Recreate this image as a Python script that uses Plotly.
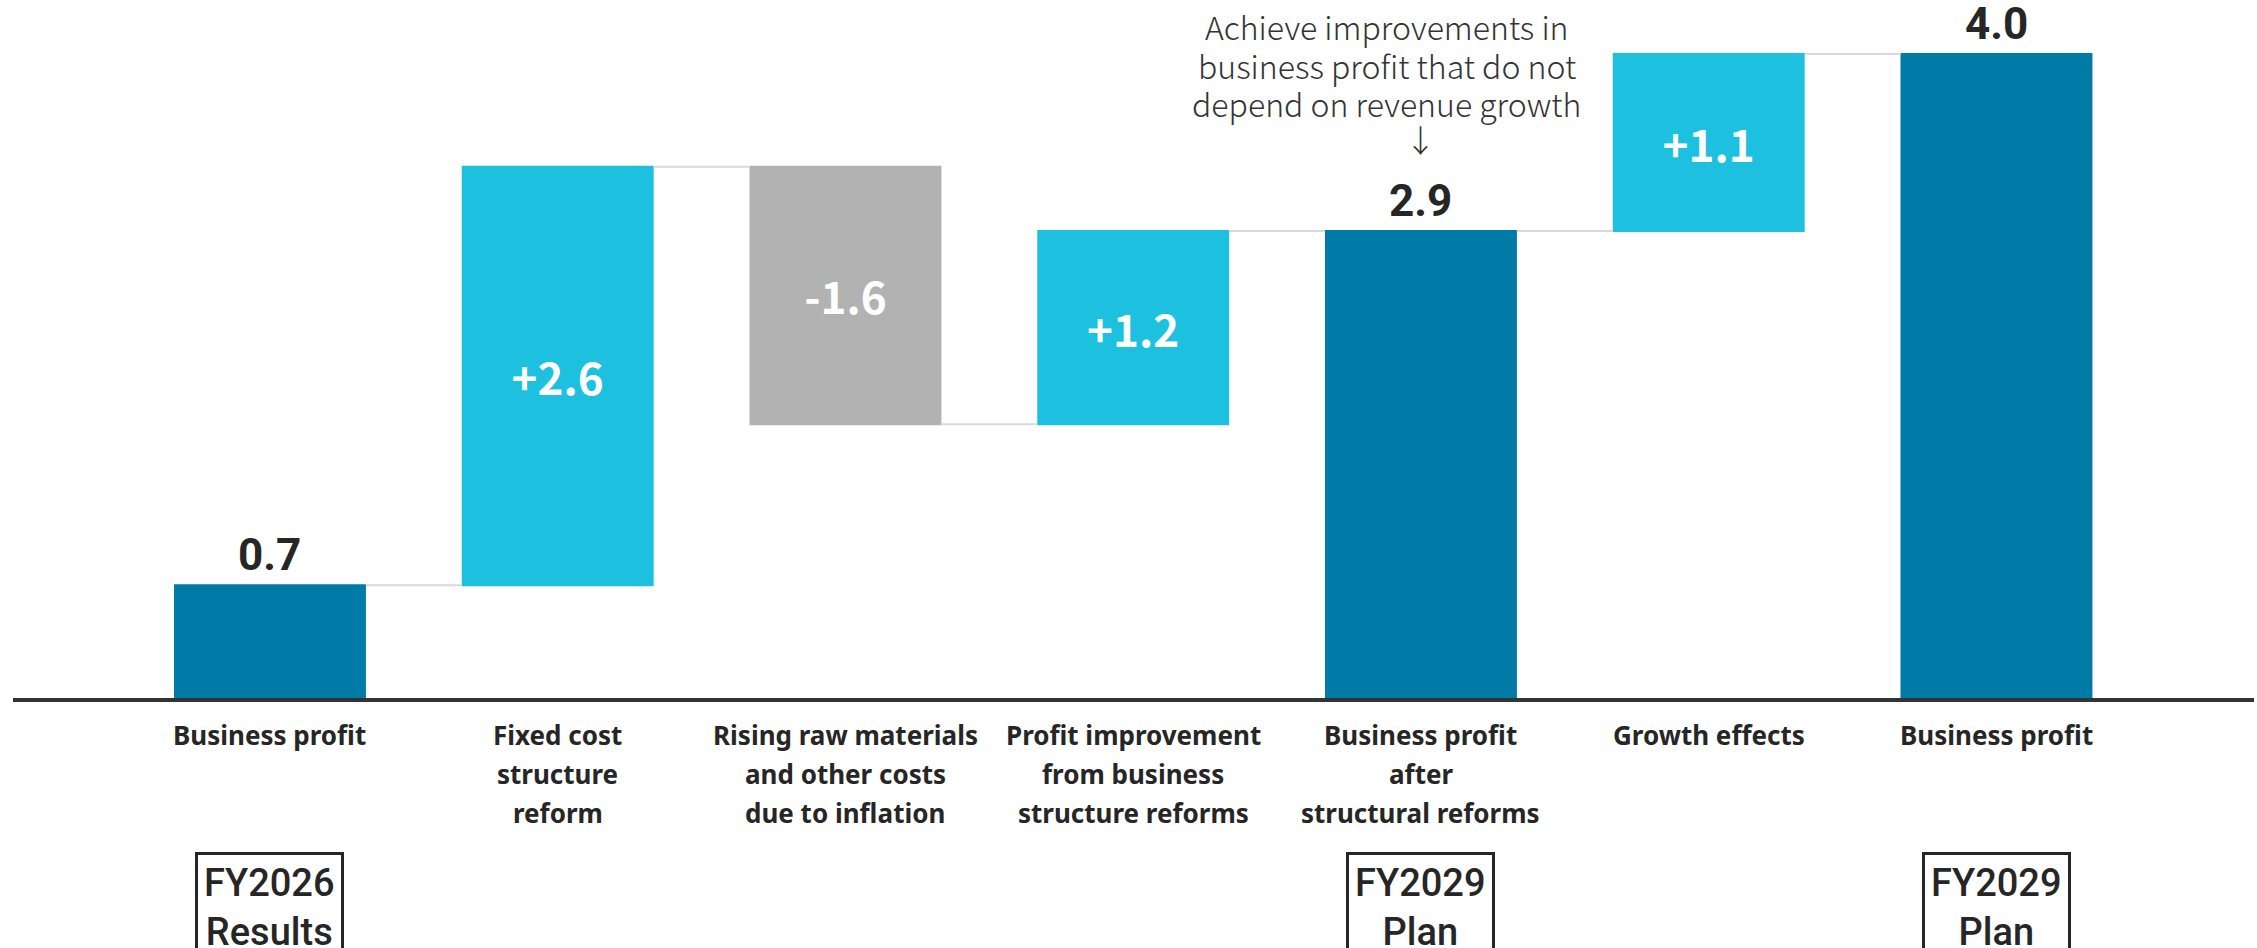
"""Waterfall: business profit bridge FY2026 -> FY2029"""
import plotly.graph_objects as go

# bars, left to right
label_lines = [
    ["Business profit"],
    ["Fixed cost", "structure", "reform"],
    ["Rising raw materials", "and other costs", "due to inflation"],
    ["Profit improvement", "from business", "structure reforms"],
    ["Business profit", "after", "structural reforms"],
    ["Growth effects"],
    ["Business profit"],
]
measures = ["absolute", "relative", "relative", "relative", "total", "relative", "total"]
values = [0.7, 2.6, -1.6, 1.2, 0, 1.1, 0]
bar_labels = ["0.7", "+2.6", "-1.6", "+1.2", "2.9", "+1.1", "4.0"]

period_idx = [0, 4, 6]
period_text = ["FY2026<br>Results", "FY2029<br>Plan", "FY2029<br>Plan"]

note_lines = ["Achieve improvements in", "business profit that do not", "depend on revenue growth"]
note_idx = 4

DARK = "#007BA7"
LIGHT = "#1DC0DE"
GREY = "#B2B2B2"
INK = "#262626"

x = list(range(len(values)))

# running level at each bar (used to place the total labels)
levels = []
run = 0
for m, v in zip(measures, values):
    if m == "absolute":
        run = v
    elif m == "relative":
        run += v
    levels.append(round(run, 1))

inside = [t if m == "relative" else "" for t, m in zip(bar_labels, measures)]

fig = go.Figure()
fig.add_trace(go.Waterfall(
    x=x, y=values, measure=measures,
    text=inside, textposition="inside", insidetextanchor="middle",
    textfont=dict(family="Noto Sans CJK JP", size=44, color="white", weight="bold"),
    increasing=dict(marker=dict(color=LIGHT)),
    decreasing=dict(marker=dict(color=GREY)),
    totals=dict(marker=dict(color=DARK)),
    connector=dict(line=dict(color="#D9D9D9", width=2)),
    hoverinfo="skip",
))

annotations = []

# value labels above the total bars
for i, m in enumerate(measures):
    if m != "relative":
        annotations.append(dict(
            x=i, y=levels[i], xref="x", yref="y", text=bar_labels[i],
            showarrow=False, yanchor="bottom", yshift=2,
            font=dict(family="Roboto", size=44, color=INK, weight="bold"),
        ))

# category labels, one annotation per line to get the wide line spacing
for i, lines in enumerate(label_lines):
    for j, line in enumerate(lines):
        annotations.append(dict(
            x=i, y=0, xref="x", yref="y", text=line,
            showarrow=False, yanchor="top", yshift=-17 - 39 * j,
            font=dict(family="Noto Sans", size=26, color=INK, weight="bold"),
        ))

# boxed period tags
for i, t in zip(period_idx, period_text):
    annotations.append(dict(
        x=i, y=0, xref="x", yref="y", text=t,
        showarrow=False, yanchor="top", yshift=-154,
        bordercolor=INK, borderwidth=3, borderpad=6,
        font=dict(family="Roboto", size=38, color=INK, weight=500),
    ))

# note over the post-reform bar
for j, line in enumerate(note_lines):
    annotations.append(dict(
        x=note_idx, y=1, xref="x", yref="paper", text=line,
        showarrow=False, yanchor="top", yshift=-1 - 38.5 * j, xshift=-34,
        font=dict(family="Noto Sans CJK JP", size=32, color="#333333", weight=300),
    ))
annotations.append(dict(
    x=note_idx, y=1, xref="x", yref="paper", text="↓",
    showarrow=False, yanchor="top", yshift=-114,
    font=dict(family="Noto Sans CJK JP", size=31, color="#333333", weight=300),
))

fig.update_layout(
    width=2257, height=948,
    margin=dict(l=13, r=3, t=0, b=250),
    plot_bgcolor="white", paper_bgcolor="white",
    showlegend=False, waterfallgap=0.333,
    xaxis=dict(range=[-0.893, 6.895], showticklabels=False, showgrid=False,
               zeroline=False, showline=True, linecolor="#333333", linewidth=4,
               ticks=""),
    yaxis=dict(range=[0, 4.335], visible=False, showgrid=False, zeroline=False),
    annotations=annotations,
)

fig.write_html("out.html", config={"displayModeBar": False},
               post_script="document.body.style.margin='0';")
